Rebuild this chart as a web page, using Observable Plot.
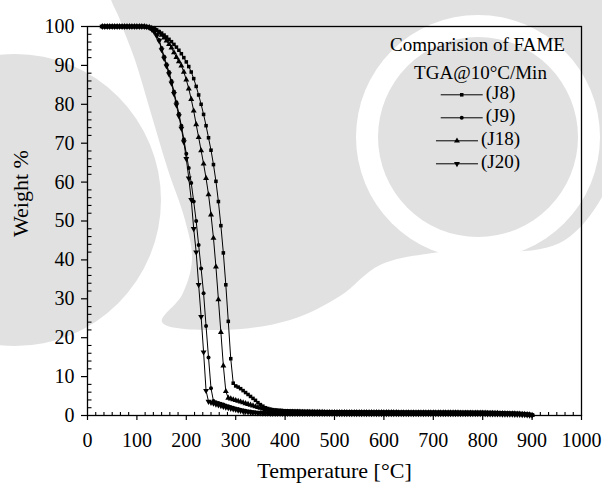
<!DOCTYPE html>
<html>
<head>
<meta charset="utf-8">
<script src="https://cdn.jsdelivr.net/npm/d3@7"></script>
<script src="https://cdn.jsdelivr.net/npm/@observablehq/plot@0.6"></script>
<style>
  html, body { margin: 0; padding: 0; background: #fff; }
  #chart { position: relative; width: 602px; height: 484px; overflow: hidden; }
  #chart > svg.backdrop { position: absolute; left: 0; top: 0; }
  #chart > svg.plot { position: relative; }
</style>
</head>
<body>
<div id="chart"></div>
<script>
// TGA curves of four FAME samples, heated at 10 °C/min.
const temperature = [
  30, 35, 40, 45, 50, 55, 60, 65, 70, 75, 80, 85, 90, 95, 100, 105, 110, 115,
  120, 125, 130, 135, 140, 145, 150, 155, 160, 165, 170, 175, 180, 185, 190, 195,
  200, 205, 210, 215, 220, 225, 230, 235, 240, 245, 250, 255, 260, 265, 270, 275,
  280, 285, 290, 295, 300, 305, 310, 315, 320, 325, 330, 335, 340, 345, 350, 355,
  360, 365, 370, 375, 380, 385, 390, 395, 400,
  405, 410, 415, 420, 425, 430, 435, 440, 445, 450,
  455, 460, 465, 470, 475, 480, 485, 490, 495, 500,
  505, 510, 515, 520, 525, 530, 535, 540, 545, 550,
  555, 560, 565, 570, 575, 580, 585, 590, 595, 600,
  605, 610, 615, 620, 625, 630, 635, 640, 645, 650,
  655, 660, 665, 670, 675, 680, 685, 690, 695, 700,
  705, 710, 715, 720, 725, 730, 735, 740, 745, 750,
  755, 760, 765, 770, 775, 780, 785, 790, 795, 800,
  805, 810, 815, 820, 825, 830, 835, 840, 845, 850,
  855, 860, 865, 870, 875, 880, 885, 890, 895, 900
];

// Weight % of each sample at the temperatures above.
const weightJ8 = [
  100, 100, 100, 100, 100, 100, 100, 100, 100, 100, 100, 100, 100, 100, 100, 100, 100, 100,
  99.9, 99.8, 99.6, 99.4, 99.1, 98.7, 98.3, 97.8, 97.3, 96.7, 96.1, 95.4, 94.7, 93.9, 93.0, 92.0,
  90.9, 89.7, 88.3, 86.6, 84.6, 82.4, 80.0, 77.4, 74.5, 71.4, 68.2, 64.5, 60.2, 55.0, 48.8, 41.8,
  33.6, 24.2, 14.6, 8.3, 7.6, 7.3, 6.9, 6.4, 5.9, 5.4, 4.9, 4.4, 3.9, 3.3, 2.8, 2.4,
  2.0, 1.8, 1.6, 1.5, 1.4, 1.35, 1.3, 1.25, 1.2,
  1.18, 1.16, 1.14, 1.12, 1.10, 1.08, 1.06, 1.05, 1.04, 1.03,
  1.02, 1.01, 1.00, 0.99, 0.98, 0.98, 0.97, 0.97, 0.96, 0.96,
  0.96, 0.95, 0.95, 0.95, 0.94, 0.94, 0.94, 0.93, 0.93, 0.93,
  0.92, 0.92, 0.92, 0.91, 0.91, 0.91, 0.90, 0.90, 0.90, 0.90,
  0.89, 0.89, 0.89, 0.89, 0.89, 0.88, 0.88, 0.88, 0.88, 0.88,
  0.87, 0.87, 0.87, 0.87, 0.87, 0.86, 0.86, 0.86, 0.86, 0.86,
  0.85, 0.85, 0.85, 0.85, 0.85, 0.84, 0.84, 0.84, 0.84, 0.84,
  0.82, 0.82, 0.82, 0.82, 0.82, 0.80, 0.80, 0.80, 0.80, 0.80,
  0.78, 0.77, 0.76, 0.75, 0.74, 0.72, 0.70, 0.68, 0.66, 0.64,
  0.62, 0.60, 0.58, 0.55, 0.52, 0.48, 0.44, 0.38, 0.30, 0.18
];

const weightJ9 = [
  100, 100, 100, 100, 100, 100, 100, 100, 100, 100, 100, 100, 100, 100, 100, 100, 100, 100,
  99.9, 99.7, 99.3, 98.7, 97.8, 96.5, 94.5, 92.3, 90.3, 88.3, 86.0, 83.3, 80.5, 77.6, 74.5, 71.0,
  67.3, 63.6, 59.8, 55.0, 50.0, 43.8, 37.8, 31.4, 23.0, 14.9, 7.0, 3.7, 3.4, 3.2, 3.0, 2.8,
  2.6, 2.4, 2.2, 2.0, 1.8, 1.65, 1.5, 1.35, 1.2, 1.1, 1.0, 0.92, 0.85, 0.8, 0.75, 0.72,
  0.7, 0.68, 0.66, 0.65, 0.64, 0.63, 0.62, 0.61, 0.6,
  0.60, 0.59, 0.59, 0.58, 0.58, 0.57, 0.57, 0.56, 0.56, 0.55,
  0.55, 0.55, 0.55, 0.55, 0.55, 0.54, 0.54, 0.54, 0.54, 0.54,
  0.54, 0.54, 0.54, 0.54, 0.54, 0.53, 0.53, 0.53, 0.53, 0.53,
  0.53, 0.53, 0.53, 0.53, 0.53, 0.52, 0.52, 0.52, 0.52, 0.52,
  0.52, 0.52, 0.52, 0.52, 0.52, 0.51, 0.51, 0.51, 0.51, 0.51,
  0.51, 0.51, 0.51, 0.51, 0.51, 0.50, 0.50, 0.50, 0.50, 0.50,
  0.50, 0.50, 0.50, 0.50, 0.50, 0.49, 0.49, 0.49, 0.49, 0.49,
  0.48, 0.48, 0.48, 0.48, 0.48, 0.47, 0.47, 0.47, 0.47, 0.47,
  0.46, 0.46, 0.45, 0.45, 0.44, 0.43, 0.42, 0.41, 0.40, 0.39,
  0.38, 0.36, 0.34, 0.32, 0.30, 0.27, 0.23, 0.18, 0.12, 0.05
];

const weightJ18 = [
  100, 100, 100, 100, 100, 100, 100, 100, 100, 100, 100, 100, 100, 100, 100, 100, 100, 100,
  99.9, 99.8, 99.6, 99.3, 98.9, 98.4, 97.8, 97.1, 96.3, 95.4, 94.5, 93.3, 92.1, 91.0, 89.9, 88.3,
  86.3, 84.0, 81.3, 78.3, 74.8, 71.5, 68.1, 64.7, 61.0, 56.8, 51.6, 45.6, 38.2, 29.8, 21.4, 12.8,
  6.2, 4.5, 4.3, 4.1, 3.9, 3.7, 3.5, 3.3, 3.1, 2.9, 2.7, 2.5, 2.3, 2.1, 1.9, 1.75,
  1.6, 1.45, 1.3, 1.2, 1.12, 1.06, 1.02, 0.98, 0.95,
  0.94, 0.93, 0.92, 0.91, 0.90, 0.89, 0.88, 0.87, 0.86, 0.85,
  0.85, 0.84, 0.84, 0.83, 0.83, 0.82, 0.82, 0.81, 0.81, 0.80,
  0.80, 0.80, 0.80, 0.80, 0.80, 0.79, 0.79, 0.79, 0.79, 0.79,
  0.78, 0.78, 0.78, 0.78, 0.78, 0.77, 0.77, 0.77, 0.77, 0.77,
  0.76, 0.76, 0.76, 0.76, 0.76, 0.75, 0.75, 0.75, 0.75, 0.75,
  0.74, 0.74, 0.74, 0.74, 0.74, 0.73, 0.73, 0.73, 0.73, 0.73,
  0.72, 0.72, 0.72, 0.72, 0.72, 0.70, 0.70, 0.70, 0.70, 0.70,
  0.68, 0.68, 0.68, 0.68, 0.68, 0.66, 0.66, 0.66, 0.66, 0.66,
  0.64, 0.63, 0.62, 0.61, 0.60, 0.58, 0.56, 0.54, 0.52, 0.50,
  0.48, 0.46, 0.44, 0.42, 0.39, 0.35, 0.31, 0.26, 0.19, 0.10
];

const weightJ20 = [
  100, 100, 100, 100, 100, 100, 100, 100, 100, 100, 100, 100, 100, 100, 100, 100, 100, 100,
  99.9, 99.7, 99.3, 98.6, 97.6, 96.3, 94.0, 91.8, 89.8, 87.8, 85.4, 82.7, 79.8, 77.0, 73.8, 70.3,
  66.0, 61.0, 55.5, 48.0, 42.0, 33.6, 25.4, 16.3, 6.4, 3.6, 3.35, 3.1, 2.9, 2.7, 2.5, 2.3,
  2.1, 1.95, 1.8, 1.65, 1.5, 1.35, 1.2, 1.1, 1.0, 0.9, 0.8, 0.75, 0.7, 0.65, 0.6, 0.58,
  0.56, 0.54, 0.52, 0.51, 0.5, 0.5, 0.5, 0.49, 0.49,
  0.48, 0.48, 0.48, 0.48, 0.48, 0.48, 0.48, 0.48, 0.48, 0.48,
  0.47, 0.47, 0.47, 0.47, 0.47, 0.47, 0.47, 0.47, 0.47, 0.47,
  0.46, 0.46, 0.46, 0.46, 0.46, 0.46, 0.46, 0.46, 0.46, 0.46,
  0.45, 0.45, 0.45, 0.45, 0.45, 0.45, 0.45, 0.45, 0.45, 0.45,
  0.44, 0.44, 0.44, 0.44, 0.44, 0.44, 0.44, 0.44, 0.44, 0.44,
  0.43, 0.43, 0.43, 0.43, 0.43, 0.43, 0.43, 0.43, 0.43, 0.43,
  0.42, 0.42, 0.42, 0.42, 0.42, 0.42, 0.42, 0.42, 0.42, 0.42,
  0.41, 0.41, 0.41, 0.41, 0.41, 0.41, 0.41, 0.41, 0.41, 0.41,
  0.40, 0.39, 0.38, 0.37, 0.36, 0.35, 0.34, 0.33, 0.32, 0.31,
  0.30, 0.28, 0.26, 0.24, 0.22, 0.19, 0.16, 0.12, 0.07, 0.02
];

const seriesNames = ["(J8)", "(J9)", "(J18)", "(J20)"];
const xTicks = [0, 100, 200, 300, 400, 500, 600, 700, 800, 900, 1000];
const yTicks = [0, 10, 20, 30, 40, 50, 60, 70, 80, 90, 100];
const xLabel = "Temperature [°C]";
const yLabel = "Weight %";
const legendTitle = "Comparision of FAME";
const legendSubtitle = "TGA@10°C/Min";

const weights = [weightJ8, weightJ9, weightJ18, weightJ20];
weights.forEach((w, k) => {
  if (w.length !== temperature.length) throw new Error(`${seriesNames[k]}: ${w.length} values, expected ${temperature.length}`);
});

// Marker styles: filled square, circle, up-triangle, down-triangle.
const markerStyles = [
  {symbol: "square", r: 2.0, rotate: 0},
  {symbol: "circle", r: 2.0, rotate: 0},
  {symbol: "triangle", r: 2.2, rotate: 0},
  {symbol: "triangle", r: 2.2, rotate: 180}
];

const rows = seriesNames.flatMap((name, k) =>
  temperature.map((t, i) => ({series: name, t, w: weights[k][i]}))
);

// Pixel-sized glyphs for minor ticks and legend swatch lines.
const tickUp = {draw(c) { c.moveTo(0, 0); c.lineTo(0, -3.6); }};
const tickRight = {draw(c) { c.moveTo(0, 0); c.lineTo(4, 0); }};
const segment = (half) => ({draw(c) { c.moveTo(-half, 0); c.lineTo(half, 0); }});

const xMinor = [];
for (let a = 0; a < 1000; a += 100) for (let k = 1; k < 6; ++k) xMinor.push(a + (k * 100) / 6);
const yMinor = [];
for (let a = 0; a < 100; a += 10) for (let k = 1; k < 5; ++k) yMinor.push(a + k * 2);

// Plot frame geometry
const W = 602, H = 484, mL = 87, mR = 21, mT = 26, mB = 69;

// Legend layout (centred block in the upper right of the frame)
const legendFont = 19;
const measure = document.createElement("canvas").getContext("2d");
measure.font = `${legendFont}px 'Liberation Serif'`;
const legendCenter = 477.5, lineLen = 42, gap = 3, rowStart = 94.3, rowStep = 23;

const legendMarks = seriesNames.flatMap((name, k) => {
  const textW = measure.measureText(name).width;
  const start = legendCenter - (lineLen + gap + textW) / 2;
  const cx = start + lineLen / 2 - mL;
  const cy = rowStart + k * rowStep - mT;
  const m = markerStyles[k];
  return [
    Plot.dot([0], {frameAnchor: "top-left", dx: cx, dy: cy, symbol: segment(lineLen / 2), stroke: "black", fill: "none", strokeWidth: 1}),
    Plot.dot([0], {frameAnchor: "top-left", dx: cx, dy: cy, symbol: m.symbol, r: m.r, rotate: m.rotate, fill: "black", stroke: "none"}),
    Plot.text([name], {frameAnchor: "top-left", dx: start + lineLen + gap - mL, dy: cy + 4.5, text: d => d, textAnchor: "start", lineAnchor: "bottom", fontSize: legendFont})
  ];
});

const seriesMarks = seriesNames.map((name, k) => {
  const m = markerStyles[k];
  return Plot.dot(rows.filter(d => d.series === name), {
    x: "t", y: "w", symbol: m.symbol, r: m.r, rotate: m.rotate, fill: "black", stroke: "none"
  });
});

const chart = Plot.plot({
  width: W, height: H,
  marginLeft: mL, marginRight: mR, marginTop: mT, marginBottom: mB,
  x: {domain: [0, 1000]},
  y: {domain: [0, 100]},
  style: {fontFamily: "'Liberation Serif', 'Times New Roman', serif", fontSize: "20px", color: "black", background: "transparent"},
  marks: [
    Plot.line(rows, {x: "t", y: "w", z: "series", stroke: "black", strokeWidth: 1}),
    ...seriesMarks,
    Plot.axisX({ticks: xTicks, tickSize: 5, tickPadding: 12, tickFormat: d => String(d), label: null, strokeWidth: 1.2}),
    Plot.axisY({ticks: yTicks, tickSize: 6, tickPadding: 7, tickFormat: d => String(d), label: null, strokeWidth: 1.2}),
    Plot.dot(xMinor, {x: d => d, y: () => 0, symbol: tickUp, stroke: "black", fill: "none", strokeWidth: 1.1}),
    Plot.dot(yMinor, {x: () => 0, y: d => d, symbol: tickRight, stroke: "black", fill: "none", strokeWidth: 1.1}),
    Plot.frame({stroke: "black", strokeWidth: 1.3}),
    Plot.text([yLabel], {frameAnchor: "left", dx: -67, dy: 16, rotate: -90, text: d => d, fontSize: 22}),
    Plot.text([xLabel], {frameAnchor: "bottom", dy: 62, lineAnchor: "bottom", text: d => d, fontSize: 22}),
    Plot.text([legendTitle], {frameAnchor: "top-left", dx: 477 - mL, dy: 50 - mT, text: d => d, textAnchor: "middle", lineAnchor: "bottom", fontSize: legendFont}),
    Plot.text([legendSubtitle], {frameAnchor: "top-left", dx: 480 - mL, dy: 78.5 - mT, text: d => d, textAnchor: "middle", lineAnchor: "bottom", fontSize: legendFont}),
    ...legendMarks
  ]
});
chart.classList.add("plot");

// Faint grey emblem printed behind the figure.
const backdrop = d3.create("svg")
  .attr("class", "backdrop")
  .attr("width", W).attr("height", H);
const shade = "#e1e1e1";
const outline = d3.line().curve(d3.curveCatmullRomClosed.alpha(0.5));
const bigArc = [
  [112, -10], [380, -15], [625, -10], [628, 130], [565, 240], [440, 252], [380, 265],
  [340, 296], [290, 320], [220, 330], [162, 322], [182, 295], [192, 260],
  [185, 220], [168, 170], [150, 110], [135, 60], [120, 20]
];
backdrop.append("path").attr("d", outline(bigArc)).attr("fill", shade);
const discs = [
  {cx: 15, cy: 200, r: 146, fill: shade},
  {cx: 478, cy: 137, r: 122, fill: "#ffffff"},
  {cx: 478, cy: 137, r: 100, fill: shade}
];
backdrop.selectAll("circle").data(discs).join("circle")
  .attr("cx", d => d.cx).attr("cy", d => d.cy).attr("r", d => d.r).attr("fill", d => d.fill);

const root = document.getElementById("chart");
root.append(backdrop.node());
root.append(chart);
</script>
</body>
</html>
